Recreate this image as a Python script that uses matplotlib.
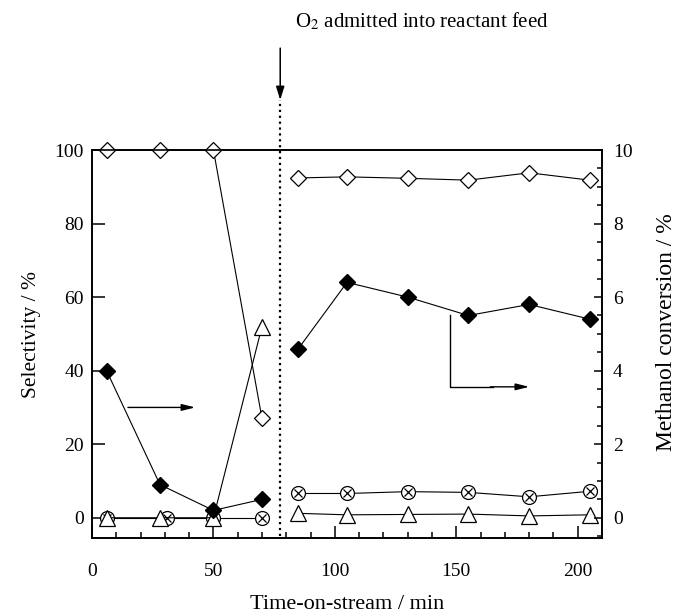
import matplotlib
matplotlib.use("Agg")
import matplotlib.pyplot as plt
from matplotlib.ticker import MultipleLocator

plt.rcParams['font.family'] = ['Liberation Serif', 'DejaVu Serif']
plt.rcParams['mathtext.fontset'] = 'stix'

# time on stream (min), before and after O2 is fed
t_pre = [6, 28, 50, 70]
t_post = [85, 105, 130, 155, 180, 205]
t_o2 = 77.5

# selectivities (%)
diam_pre = [100, 100, 100, 27]
diam_post = [92.4, 92.7, 92.3, 91.8, 93.8, 91.8]
tri_pre = [0, 0, 0, 52]
tri_post = [1.2, 0.8, 0.9, 1.0, 0.5, 0.8]
t_cx_pre = [6, 31, 50, 70]
cx_pre = [0, 0, 0, 0]
cx_post = [6.6, 6.6, 7.1, 6.9, 5.7, 7.2]

# methanol conversion (%)
conv_pre = [4.0, 0.9, 0.2, 0.5]
conv_post = [4.6, 6.4, 6.0, 5.5, 5.8, 5.4]

fig = plt.figure(figsize=(6.78, 6.14), dpi=100)
ax = fig.add_axes([0.1357, 0.1238, 0.7522, 0.6319])
ax2 = ax.twinx()

lw = 0.8
for tt, yy in [(t_cx_pre, cx_pre), (t_post, cx_post)]:
    ax.plot(tt, yy, '-', color='black', lw=lw, marker='o', ms=10,
            mfc='white', mec='black', mew=0.9, zorder=3)
    ax.plot(tt, yy, 'x', color='black', ms=6, mew=0.9, zorder=3.1)
for tt, yy in [(t_pre, tri_pre), (t_post, tri_post)]:
    ax.plot(tt, yy, '-', color='black', lw=lw, marker='^', ms=11,
            mfc='white', mec='black', mew=0.9, zorder=4)
for tt, yy in [(t_pre, diam_pre), (t_post, diam_post)]:
    ax.plot(tt, yy, '-', color='black', lw=lw, marker='D', ms=8.5,
            mfc='white', mec='black', mew=0.9, zorder=5, clip_on=False)
for tt, yy in [(t_pre, conv_pre), (t_post, conv_post)]:
    ax2.plot(tt, yy, '-', color='black', lw=lw, marker='D', ms=8.5,
             mfc='black', mec='black', zorder=5)

ax.set_xlim(0, 210)
ax.set_ylim(-5.5, 100)
ax2.set_ylim(-0.55, 10)

ax.xaxis.set_major_locator(MultipleLocator(50))
ax.xaxis.set_minor_locator(MultipleLocator(10))
ax.yaxis.set_major_locator(MultipleLocator(20))
ax2.yaxis.set_major_locator(MultipleLocator(2))
ax2.yaxis.set_minor_locator(MultipleLocator(0.5))

ax.tick_params(axis='x', which='major', direction='in', length=9, width=1.1,
               labelsize=14, pad=18)
ax.tick_params(axis='x', which='minor', direction='in', length=4.5, width=1.1)
ax.tick_params(axis='y', which='major', direction='in', length=9, width=1.1,
               labelsize=14, pad=6)
ax2.tick_params(axis='y', which='major', direction='in', length=6, width=1.1,
                labelsize=14, pad=8)
ax2.tick_params(axis='y', which='minor', direction='in', length=3.5, width=1.1)

for a in (ax, ax2):
    for s in a.spines.values():
        s.set_linewidth(1.2)

ax.set_xlabel('Time-on-stream / min', fontsize=16)
ax.set_ylabel('Selectivity / %', fontsize=15.5)
ax2.set_ylabel('Methanol conversion / %', fontsize=17)
ax.xaxis.set_label_coords(0.5, -0.172)
ax.xaxis.label.set_va('center')
ax.yaxis.set_label_coords(-0.118, 0.525)
ax.yaxis.label.set_va('center')
ax2.yaxis.set_label_coords(1.127, 0.53)
ax2.yaxis.label.set_va('center')

# O2 switch: dotted marker line with arrow and caption above the plot
ax.plot([t_o2, t_o2], [-5, 113.6], ':', color='black', lw=1.6,
        clip_on=False, zorder=2)
ax.annotate('', xy=(t_o2, 113.6), xytext=(t_o2, 127.7),
            xycoords='data', annotation_clip=False,
            arrowprops=dict(arrowstyle='-|>,head_length=0.8,head_width=0.25',
                            color='black', lw=1.1, shrinkA=0, shrinkB=0))
ax.text(135.8, 135, r'O$_2$ admitted into reactant feed', fontsize=15,
        ha='center', va='center', clip_on=False)

# arrows pointing the conversion series to the right axis
ax.annotate('', xy=(42.5, 30), xytext=(14.8, 30),
            arrowprops=dict(arrowstyle='-|>,head_length=0.8,head_width=0.2',
                            color='black', lw=1.0, shrinkA=0, shrinkB=0))
ax.plot([147.3, 147.3, 165], [55.2, 35.6, 35.6], '-', color='black', lw=1.0)
ax.annotate('', xy=(180, 35.6), xytext=(164, 35.6),
            arrowprops=dict(arrowstyle='-|>,head_length=0.8,head_width=0.2',
                            color='black', lw=1.0, shrinkA=0, shrinkB=0))

fig.savefig('out.png', dpi=100)
